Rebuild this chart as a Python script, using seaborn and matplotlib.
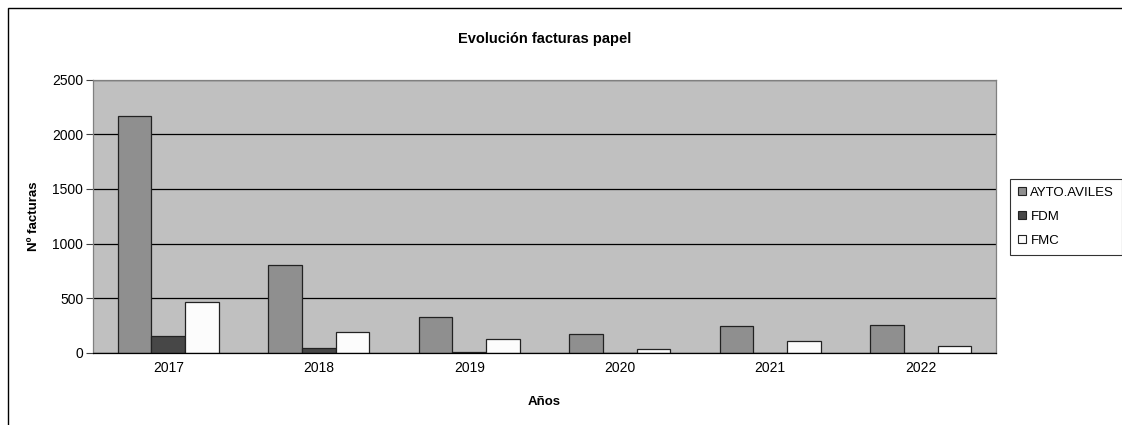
import matplotlib
matplotlib.use("Agg")
import matplotlib.pyplot as plt
import seaborn as sns
import pandas as pd
from matplotlib.patches import Rectangle, Patch

years = ["2017", "2018", "2019", "2020", "2021", "2022"]
ayto = [2162, 805, 326, 176, 247, 259]
fdm = [158, 43, 12, 0, 0, 0]
fmc = [464, 195, 125, 37, 110, 60]
series = ["AYTO.AVILES", "FDM", "FMC"]
colors = ["#8f8f8f", "#474747", "#fcfcfc"]
yticks = [0, 500, 1000, 1500, 2000, 2500]

df = pd.DataFrame({
    "Años": years * 3,
    "value": ayto + fdm + fmc,
    "serie": [series[0]] * 6 + [series[1]] * 6 + [series[2]] * 6,
})

sns.set_theme(style="white")
plt.rcParams['font.family'] = ['Liberation Sans', 'DejaVu Sans']
plt.rcParams['text.color'] = 'black'
plt.rcParams['axes.labelcolor'] = 'black'
plt.rcParams['xtick.color'] = 'black'
plt.rcParams['ytick.color'] = 'black'

W, H = 1122, 425
fig = plt.figure(figsize=(W / 100, H / 100), dpi=100)
ax = fig.add_axes([93 / W, 1 - 353 / H, (996 - 93) / W, (353 - 79.5) / H])

sns.barplot(data=df, x="Años", y="value", hue="serie", palette=colors,
            width=0.672, gap=0, ax=ax, edgecolor="#222222", linewidth=0.9,
            legend=False, saturation=1)

ax.set_facecolor("#c0c0c0")
ax.set_ylim(0, 2500)
ax.set_xlim(-0.5, 5.5)
ax.set_yticks(yticks)
ax.set_yticklabels([str(v) for v in yticks], fontsize=10)
ax.yaxis.grid(True, color="black", linewidth=0.9)
ax.set_axisbelow(True)
for s in ["top", "right", "left"]:
    ax.spines[s].set_visible(True)
    ax.spines[s].set_color("#808080")
    ax.spines[s].set_linewidth(0.9)
ax.spines["bottom"].set_color("black")
ax.spines["bottom"].set_linewidth(0.9)

ax.set_xticks(range(6))
ax.set_xticklabels(years, fontsize=10)
ax.set_xticks([i - 0.5 for i in range(7)], minor=True)
ax.tick_params(axis="x", which="major", length=0, pad=6)
ax.tick_params(axis="x", which="minor", length=4, width=0.8, color="#404040", direction="out")
ax.tick_params(axis="y", length=5, width=0.8, color="#404040", direction="out", left=True, pad=2)

ax.set_xlabel("Años", fontsize=9.5, fontweight="bold", labelpad=15)
ax.set_ylabel("Nº facturas", fontsize=9.5, fontweight="bold", labelpad=9)
ax.set_title("Evolución facturas papel", fontsize=10.5, fontweight="bold", pad=26)

handles = [Patch(facecolor=c, edgecolor="#222222", linewidth=0.8) for c in colors]
leg = fig.legend(handles, series, loc="upper left",
                 bbox_to_anchor=(1010 / W, 1 - 179 / H), fontsize=9.5,
                 frameon=True, fancybox=False, edgecolor="black",
                 handlelength=0.6, handleheight=0.6, handletextpad=0.35,
                 borderpad=0.6, labelspacing=0.9, borderaxespad=0)
leg.get_frame().set_linewidth(0.8)

fig.patches.append(Rectangle((8 / W, -0.1), 1.2, 1 - 8 / H + 0.1,
                             transform=fig.transFigure, fill=False,
                             edgecolor="black", linewidth=1))

fig.savefig("out.png", dpi=100, facecolor="white")
